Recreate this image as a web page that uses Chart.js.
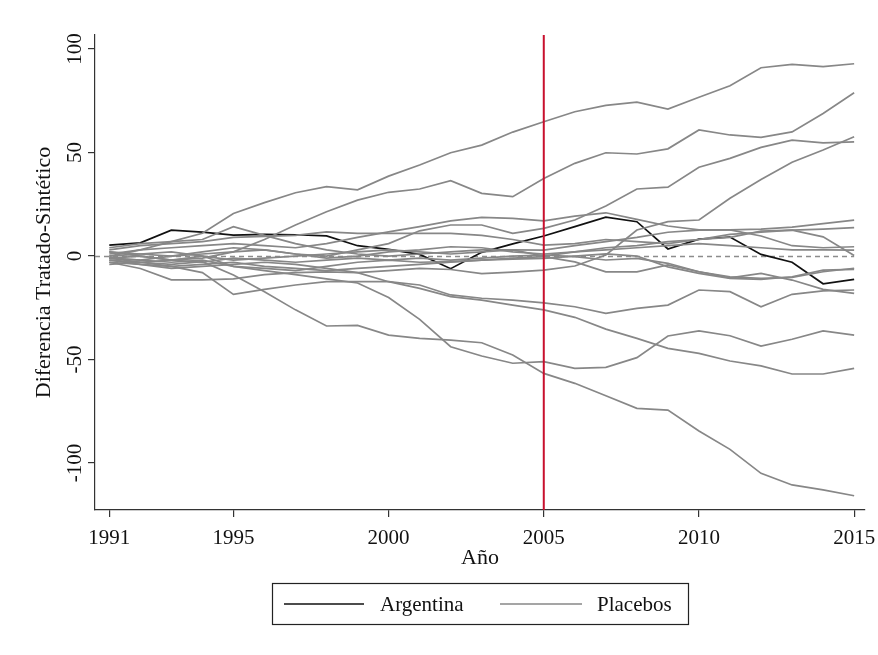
<!DOCTYPE html>
<html>
<head>
<meta charset="utf-8">
<script src="https://cdn.jsdelivr.net/npm/chart.js@4.4.0/dist/chart.umd.min.js"></script>
<style>
  html, body { margin: 0; padding: 0; background: #fff; }
</style>
</head>
<body>
<canvas id="myChart" width="878" height="655"></canvas>
<script>
const years = [1991, 1992, 1993, 1994, 1995, 1996, 1997, 1998, 1999, 2000, 2001, 2002, 2003,
               2004, 2005, 2006, 2007, 2008, 2009, 2010, 2011, 2012, 2013, 2014, 2015];
const xTicks = [1991, 1995, 2000, 2005, 2010, 2015];
const yTicks = [-100, -50, 0, 50, 100];
const treatYear = 2005;

const argentina = [5.3, 6.4, 12.5, 11.6, 10.1, 10.5, 10.3, 9.7, 5.0, 3.2, 0.8, -6.1, 1.8, 5.9, 9.7, 14.2, 18.8, 16.6, 3.4, 8.2, 9.2, 0.8, -3.0, -13.4, -11.3];

const placeboA = [0.0, 3.0, 7.0, 11.0, 20.6, 25.8, 30.6, 33.5, 32.0, 38.6, 44.0, 49.9, 53.6, 59.9, 64.9, 69.7, 72.8, 74.4, 71.0, 76.7, 82.3, 91.0, 92.6, 91.5, 92.9];
const placeboB = [-2.0, -3.0, -2.0, -1.0, 2.0, 8.0, 15.0, 21.4, 27.0, 30.8, 32.4, 36.4, 30.3, 28.7, 37.5, 44.8, 49.9, 49.3, 51.8, 60.9, 58.5, 57.3, 60.0, 68.9, 78.9];
const placeboC = [-3.0, -4.0, -6.0, -5.0, -4.0, -3.0, -4.0, -6.0, -8.0, -7.0, -6.0, -6.5, -8.5, -7.8, -6.8, -4.8, 0.5, 12.6, 16.6, 17.4, 27.9, 37.0, 45.3, 51.2, 57.6];
const placeboD = [2.0, 1.0, 0.0, 1.0, 2.0, 3.0, 1.0, 0.0, 3.0, 6.0, 12.2, 15.0, 15.0, 11.0, 13.4, 17.4, 24.2, 32.4, 33.3, 42.9, 47.2, 52.5, 56.0, 54.7, 55.2];
const placeboE = [1.0, 3.0, 4.0, 5.0, 6.0, 5.0, 4.0, 6.0, 9.0, 11.7, 14.2, 17.0, 18.7, 18.2, 17.0, 19.3, 20.9, 17.7, 14.5, 12.6, 12.6, 9.7, 5.0, 4.0, 4.5];
const placeboF = [4.0, 6.0, 7.0, 8.0, 14.2, 10.0, 6.0, 3.0, 1.0, 0.0, 1.0, 2.0, 3.0, 3.0, 2.9, 5.0, 7.0, 9.0, 11.5, 12.5, 12.6, 13.0, 14.0, 15.7, 17.4];
const placeboG = [3.0, 5.0, 6.0, 7.0, 9.0, 9.5, 10.0, 11.7, 11.0, 11.0, 11.0, 11.0, 10.0, 8.0, 5.3, 6.0, 8.0, 7.0, 6.0, 8.0, 10.5, 11.5, 12.5, 13.0, 13.7];
const placeboH = [-1.0, -2.0, 0.0, 2.0, 4.0, 3.0, 1.0, -1.0, 0.0, 2.0, 3.0, 4.5, 4.0, 2.0, 1.0, 2.0, 3.0, 4.0, 5.0, 6.0, 5.0, 4.0, 3.0, 3.0, 2.9];
const placeboI = [0.0, 1.0, 2.0, 0.0, -2.0, -1.0, 0.0, 1.0, 2.0, 3.0, 2.0, 1.0, 2.0, 3.0, 0.0, 2.0, 4.0, 5.0, 7.0, 8.0, 9.0, 12.0, 12.5, 9.3, 0.3];
const placeboJ = [-1.0, 0.0, -2.0, -3.0, -1.0, -2.0, -3.0, -2.0, -1.0, -2.0, -1.0, -2.0, -1.0, 0.0, 0.5, -0.3, -1.9, -1.1, -3.5, -7.6, -10.0, -10.8, -10.3, -7.6, -5.9];
const placeboK = [2.0, 0.0, -2.0, 0.0, -5.0, -6.0, -7.0, -5.0, -3.0, -2.0, -3.0, -2.7, -2.0, -1.5, -1.1, 0.0, 1.0, 0.0, -5.2, -8.4, -10.8, -11.3, -10.0, -6.8, -6.4];
const placeboL = [-4.0, -3.0, -5.0, -4.0, -3.0, -5.0, -6.0, -7.0, -6.0, -5.0, -4.0, -3.0, -2.0, -1.0, -0.3, -2.8, -7.6, -7.6, -4.3, -7.6, -10.5, -8.4, -11.6, -16.1, -18.0];
const placeboM = [-3.0, -6.0, -11.5, -11.5, -11.0, -9.0, -8.0, -7.6, -8.0, -12.4, -14.0, -18.8, -20.4, -21.3, -22.6, -24.5, -27.7, -25.3, -23.7, -16.4, -17.2, -24.5, -18.5, -16.8, -16.4];
const placeboN = [-2.0, -4.0, -5.0, -8.0, -18.5, -16.1, -14.0, -12.4, -12.4, -12.4, -15.6, -19.6, -21.3, -23.7, -26.0, -29.6, -35.3, -39.8, -44.6, -47.0, -50.7, -53.1, -57.0, -57.0, -54.3];
const placeboO = [-1.0, -2.0, -3.0, -2.0, -5.0, -7.0, -9.0, -11.0, -13.0, -20.0, -30.6, -43.8, -48.3, -51.8, -51.0, -54.3, -53.8, -49.1, -38.6, -36.2, -38.5, -43.5, -40.2, -36.2, -38.2];
const placeboP = [-1.0, -3.0, -4.0, -2.7, -9.2, -17.2, -26.0, -33.8, -33.5, -38.2, -39.8, -40.6, -41.9, -47.8, -56.7, -61.5, -67.5, -73.6, -74.4, -84.5, -93.4, -105.0, -110.6, -113.0, -115.8];

const placebos = [placeboA, placeboB, placeboC, placeboD, placeboE, placeboF, placeboG, placeboH,
                  placeboI, placeboJ, placeboK, placeboL, placeboM, placeboN, placeboO, placeboP];

const grayCol = '#878787';
const blackCol = '#111111';
const redCol = '#c8102e';
const fontFam = '"Liberation Serif", "Times New Roman", serif';

function toPoints(arr) {
    return arr.map((v, i) => ({ x: years[i], y: v }));
}

const datasets = placebos.map((p, i) => ({
    label: i === 0 ? 'Placebos' : 'placebo' + i,
    data: toPoints(p),
    borderColor: grayCol,
    borderWidth: 1.7,
    pointRadius: 0,
    tension: 0
}));
datasets.push({
    label: 'Argentina',
    data: toPoints(argentina),
    borderColor: blackCol,
    borderWidth: 1.7,
    pointRadius: 0,
    tension: 0
});

// lines at 0 and at 2005, y labels, titles and the boxed legend
const overlay = {
    id: 'overlay',
    beforeDatasetsDraw(chart) {
        const { ctx, chartArea, scales: { x, y } } = chart;
        const py = Math.round(y.getPixelForValue(0)) + 0.5;
        ctx.save();
        ctx.strokeStyle = '#8c8c8c';
        ctx.lineWidth = 1.6;
        ctx.setLineDash([5, 4]);
        ctx.beginPath();
        ctx.moveTo(chartArea.left, py);
        ctx.lineTo(x.getPixelForValue(years[years.length - 1]), py);
        ctx.stroke();
        ctx.restore();
    },
    afterDatasetsDraw(chart) {
        const { ctx, chartArea, scales: { x } } = chart;
        const px = x.getPixelForValue(treatYear);
        ctx.save();
        ctx.strokeStyle = redCol;
        ctx.lineWidth = 2;
        ctx.beginPath();
        ctx.moveTo(px, chartArea.top);
        ctx.lineTo(px, chartArea.bottom);
        ctx.stroke();
        ctx.restore();
    },
    afterDraw(chart) {
        const { ctx, chartArea, scales: { y } } = chart;
        ctx.save();
        ctx.fillStyle = '#111';
        ctx.font = '21px ' + fontFam;
        ctx.textAlign = 'center';
        ctx.textBaseline = 'middle';
        yTicks.forEach(v => {
            ctx.save();
            ctx.translate(75, y.getPixelForValue(v));
            ctx.rotate(-Math.PI / 2);
            ctx.fillText(String(v), 0, 0);
            ctx.restore();
        });
        // y title
        ctx.font = '22px ' + fontFam;
        ctx.save();
        ctx.translate(44, (chartArea.top + chartArea.bottom) / 2);
        ctx.rotate(-Math.PI / 2);
        ctx.fillText('Diferencia Tratado-Sintético', 0, 0);
        ctx.restore();
        // x title
        ctx.fillText('Año', (chartArea.left + chartArea.right) / 2, 558);

        // legend
        ctx.font = '21px ' + fontFam;
        ctx.strokeStyle = '#222';
        ctx.lineWidth = 1.2;
        ctx.strokeRect(272.5, 583.5, 416, 41);
        const ly = 604;
        ctx.lineWidth = 1.7;
        ctx.strokeStyle = blackCol;
        ctx.beginPath(); ctx.moveTo(284, ly); ctx.lineTo(364, ly); ctx.stroke();
        ctx.strokeStyle = grayCol;
        ctx.beginPath(); ctx.moveTo(500, ly); ctx.lineTo(582, ly); ctx.stroke();
        ctx.textAlign = 'left';
        ctx.fillText('Argentina', 380, ly + 1);
        ctx.fillText('Placebos', 597, ly + 1);
        ctx.restore();
    }
};

const config = {
    type: 'line',
    data: { datasets: datasets },
    options: {
        responsive: false,
        animation: false,
        layout: { padding: { left: 0, right: 13, top: 35, bottom: 0 } },
        plugins: {
            legend: { display: false },
            tooltip: { enabled: false }
        },
        scales: {
            x: {
                type: 'linear',
                min: 1990.54,
                max: 2015.35,
                afterBuildTicks: s => { s.ticks = xTicks.map(v => ({ value: v })); },
                afterFit: s => { s.height = 145; s.paddingLeft = 0; s.paddingRight = 0; },
                grid: { drawOnChartArea: false, tickLength: 7, color: '#333', lineWidth: 1.2 },
                border: { color: '#333', width: 1.2 },
                ticks: {
                    padding: 9,
                    color: '#111',
                    maxRotation: 0,
                    autoSkip: false,
                    font: { family: fontFam, size: 21 },
                    callback: v => String(v)
                }
            },
            y: {
                min: -122.7,
                max: 106.8,
                afterBuildTicks: s => { s.ticks = yTicks.map(v => ({ value: v })); },
                afterFit: s => { s.width = 95; s.paddingTop = 0; s.paddingBottom = 0; },
                grid: { drawOnChartArea: false, tickLength: 7, color: '#333', lineWidth: 1.2 },
                border: { color: '#333', width: 1.2 },
                ticks: { display: false }
            }
        }
    },
    plugins: [overlay]
};

const myChart = new Chart(document.getElementById('myChart'), config);
</script>
</body>
</html>
